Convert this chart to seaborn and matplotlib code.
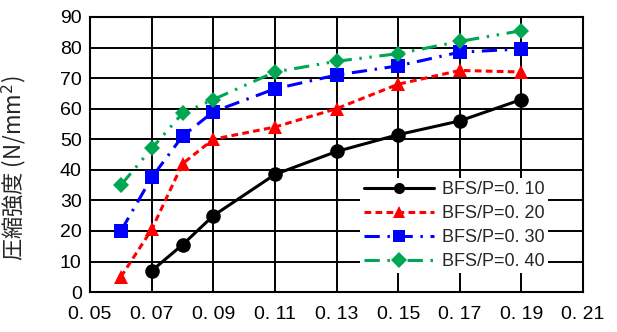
import pandas as pd
import matplotlib
matplotlib.use('Agg')
import matplotlib.pyplot as plt
import seaborn as sns

# data
x_vals = [0.06, 0.07, 0.08, 0.09, 0.11, 0.13, 0.15, 0.17, 0.19]
s010 = [None, 7, 15.5, 25, 38.5, 46, 51.5, 56, 63]
s020 = [5, 20.5, 42, 50, 54, 60, 68, 72.5, 72]
s030 = [20, 37.5, 51, 59, 66.5, 71, 74, 78.5, 79.5]
s040 = [35, 47, 58.5, 63, 72, 75.5, 78, 82, 85.5]
series_names = ['BFS/P=0. 10', 'BFS/P=0. 20', 'BFS/P=0. 30', 'BFS/P=0. 40']
x_ticks = [0.05, 0.07, 0.09, 0.11, 0.13, 0.15, 0.17, 0.19, 0.21]
x_tick_labels = ['0. 05', '0. 07', '0. 09', '0. 11', '0. 13', '0. 15', '0. 17', '0. 19', '0. 21']
y_ticks = list(range(0, 91, 10))

rows = []
for name, vals in zip(series_names, [s010, s020, s030, s040]):
    for xv, yv in zip(x_vals, vals):
        if yv is not None:
            rows.append({'x': xv, 'y': yv, 'series': name})
df = pd.DataFrame(rows)

sns.set_style('white')
plt.rcParams['font.family'] = ['Noto Sans CJK JP', 'DejaVu Sans']
num_font = ['Liberation Sans', 'DejaVu Sans']

fig = plt.figure(figsize=(6.17, 3.32), dpi=100)
ax = fig.add_axes([0.146, 0.12, 0.799, 0.829])

palette = {series_names[0]: 'black', series_names[1]: '#ff0000',
           series_names[2]: '#0000ff', series_names[3]: '#00a651'}
markers = {series_names[0]: 'o', series_names[1]: '^',
           series_names[2]: 's', series_names[3]: 'D'}
dashes = {series_names[0]: '', series_names[1]: (2.2, 1.4),
          series_names[2]: (5, 2.5, 0.8, 2.5), series_names[3]: (5, 2.5, 0.8, 2.5, 0.8, 2.5)}
sizes = {series_names[0]: 10.5, series_names[1]: 10, series_names[2]: 10, series_names[3]: 8}

sns.lineplot(data=df, x='x', y='y', hue='series', style='series',
             palette=palette, markers=markers, dashes=dashes,
             linewidth=2.2, markersize=10, markeredgewidth=0, ax=ax)

for line, name in zip(ax.get_lines(), series_names):
    line.set_markersize(sizes[name])

ax.set_xlim(0.05, 0.21)
ax.set_ylim(0, 90)
ax.set_xticks(x_ticks)
ax.set_xticklabels(x_tick_labels)
ax.set_yticks(y_ticks)
ax.tick_params(length=0, labelsize=14, colors='black')
ax.tick_params(axis='x', pad=10)
ax.tick_params(axis='y', pad=6)
for lab in ax.get_xticklabels() + ax.get_yticklabels():
    lab.set_family(num_font)
ax.grid(True, color='black', linewidth=1.4)
ax.set_axisbelow(True)
for sp in ax.spines.values():
    sp.set_color('black')
    sp.set_linewidth(1.5)
ax.set_xlabel('')
ax.set_ylabel('圧縮強度 (N/mm$^2$)', fontsize=16)
ax.yaxis.set_label_coords(-0.125, 0.45)

handles, labels = ax.get_legend_handles_labels()
for h in handles:
    h.set_markeredgewidth(0)
    h.set_markersize(8)
leg = ax.legend(handles, labels, loc='lower left', bbox_to_anchor=(0.53, 0.035),
                handlelength=3.9, handletextpad=0.4, labelspacing=0.38,
                frameon=True, facecolor='white', edgecolor='white', framealpha=1,
                borderpad=0.2, fancybox=False, prop={'family': num_font, 'size': 13})
leg.get_frame().set_linewidth(0)

fig.savefig('out.png', dpi=100)
